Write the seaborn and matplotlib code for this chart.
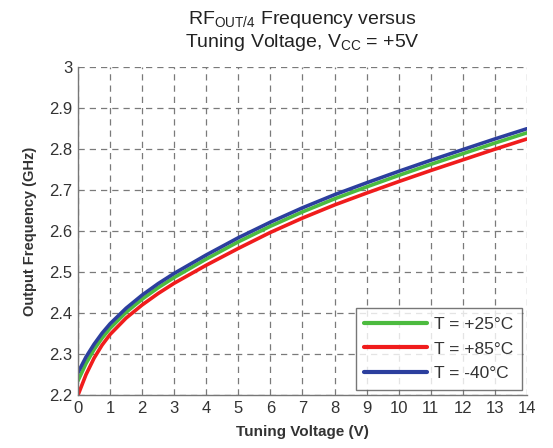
import numpy as np
import pandas as pd
import seaborn as sns
import matplotlib.pyplot as plt

# tuning voltage (V) and output frequency (GHz)
voltage = [0, 0.25, 0.5, 0.75, 1, 1.5, 2, 2.5, 3, 4, 5, 6, 7, 8, 9, 10, 11, 12, 13, 14]
freq_p25 = [2.235, 2.277, 2.311, 2.339, 2.363, 2.402, 2.434, 2.462, 2.487, 2.532,
            2.574, 2.612, 2.647, 2.679, 2.708, 2.736, 2.763, 2.789, 2.815, 2.840]
freq_p85 = [2.200, 2.250, 2.290, 2.322, 2.348, 2.388, 2.420, 2.448, 2.473, 2.517,
            2.558, 2.597, 2.632, 2.664, 2.693, 2.721, 2.748, 2.774, 2.800, 2.825]
freq_m40 = [2.255, 2.293, 2.324, 2.351, 2.374, 2.412, 2.444, 2.472, 2.497, 2.542,
            2.584, 2.622, 2.657, 2.689, 2.718, 2.746, 2.773, 2.799, 2.825, 2.850]
labels = ["T = +25°C", "T = +85°C", "T = -40°C"]
colors = ["#4cbb3f", "#f01c1c", "#2c3f9e"]
x_ticks = list(range(0, 15))
y_ticks = [2.2, 2.3, 2.4, 2.5, 2.6, 2.7, 2.8, 2.9, 3.0]

df = pd.concat([
    pd.DataFrame({"voltage": voltage, "freq": f, "temp": lab})
    for f, lab in zip([freq_p25, freq_p85, freq_m40], labels)
])

sns.set_style("white")
plt.rcParams["font.family"] = ["Liberation Sans", "DejaVu Sans"]
plt.rcParams["mathtext.fontset"] = "custom"
plt.rcParams["mathtext.rm"] = "Liberation Sans"

fig = plt.figure(figsize=(5.53, 4.48), dpi=100)
ax = fig.add_axes([0.141, 0.118, 0.812, 0.732])

sns.lineplot(data=df, x="voltage", y="freq", hue="temp", hue_order=labels,
             palette=colors, linewidth=2.6, ax=ax, legend=True)

ax.set_xlim(0, 14)
ax.set_ylim(2.2, 3.0)
ax.set_xticks(x_ticks)
ax.set_yticks(y_ticks)
ax.set_yticklabels(["2.2", "2.3", "2.4", "2.5", "2.6", "2.7", "2.8", "2.9", "3"])
ax.tick_params(direction="in", length=4, color="#777777", labelsize=12,
               labelcolor="#333333", pad=4)
ax.grid(True, color="#7a7a7a", linestyle=(0, (5, 4)), linewidth=0.9)
for side in ["top", "right"]:
    ax.spines[side].set_visible(False)
for side in ["left", "bottom"]:
    ax.spines[side].set_color("#777777")
    ax.spines[side].set_linewidth(1.0)

ax.set_xlabel("Tuning Voltage (V)", fontsize=11, fontweight="bold", color="#333333", labelpad=7)
ax.set_ylabel("Output Frequency (GHz)", fontsize=10.5, fontweight="bold", color="#333333", labelpad=9)

fig.text(0.546, 0.957, r"$\mathregular{RF_{OUT/4}}$ Frequency versus", ha="center", va="center",
         fontsize=14, color="#222222")
fig.text(0.546, 0.905, r"Tuning Voltage, $\mathregular{V_{CC}}$ = +5V", ha="center", va="center",
         fontsize=14, color="#222222")

leg = ax.legend(loc="lower right", fontsize=12.5, frameon=True, fancybox=False,
                handlelength=3.6, borderpad=0.5, labelspacing=0.55, handletextpad=0.4,
                borderaxespad=0.3, title=None)
leg.get_frame().set_edgecolor("#555555")
leg.get_frame().set_linewidth(1.0)
for line in leg.get_lines():
    line.set_linewidth(3)
for t in leg.get_texts():
    t.set_color("#333333")

fig.savefig("out.png", dpi=100)
